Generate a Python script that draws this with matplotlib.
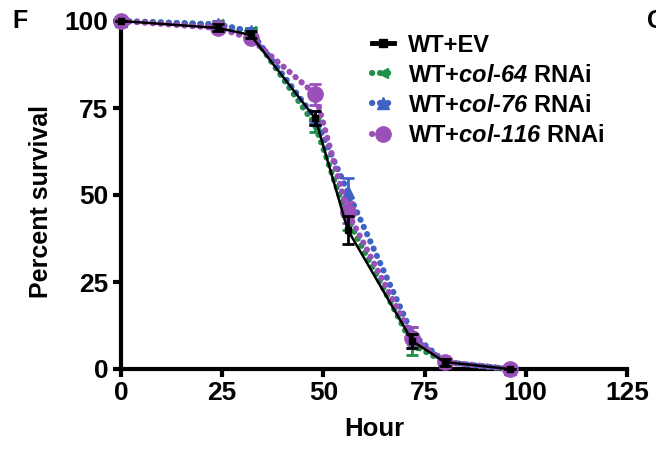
import matplotlib
matplotlib.use("Agg")
import matplotlib.pyplot as plt
from matplotlib.lines import Line2D

plt.rcParams['font.family'] = ['Liberation Sans', 'DejaVu Sans']
plt.rcParams['font.weight'] = 'bold'
plt.rcParams['mathtext.fontset'] = 'custom'
plt.rcParams['mathtext.sf'] = 'Liberation Sans:italic:bold'
plt.rcParams['mathtext.it'] = 'Liberation Sans:italic:bold'
plt.rcParams['mathtext.rm'] = 'Liberation Sans:bold'
plt.rcParams['mathtext.bf'] = 'Liberation Sans:bold'

hours = [0, 24, 32, 48, 56, 72, 80, 96]
ev = [100, 98, 96, 72, 40, 8, 2, 0]
ev_err = [0, 1, 1, 2, 4, 2, 1, 0]
col64 = [100, 99, 97, 70, 43, 7, 2, 0]
col64_err = [0, 1, 1, 2, 3, 3, 1, 0]
col76 = [100, 99, 97, 72, 51, 10, 2, 0]
col76_err = [0, 1, 1, 2, 4, 2, 1, 0]
col116 = [100, 98, 95, 79, 45, 9, 2, 0]
col116_err = [0, 1, 1, 3, 3, 3, 1, 0]

labels = ["WT+EV", "WT+$\\mathsf{col}$-$\\mathsf{64}$ RNAi",
          "WT+$\\mathsf{col}$-$\\mathsf{76}$ RNAi",
          "WT+$\\mathsf{col}$-$\\mathsf{116}$ RNAi"]

green = '#1e9148'
blue = '#3f63c4'
purple = '#9a50b8'

fig = plt.figure(figsize=(6.56, 4.49), dpi=100)
ax = fig.add_axes([121/656, 1-369/449, (627-121)/656, (369-21)/449])

dot = dict(linestyle=(0, (0.05, 1.25)), dash_capstyle='round', linewidth=4.4)
eb = dict(capsize=4, elinewidth=2, capthick=2, clip_on=False)

ax.errorbar(hours, col64, yerr=col64_err, color=green, marker='<', markersize=7,
            zorder=3, **eb, **dot)
ax.errorbar(hours, col76, yerr=col76_err, color=blue, marker='^', markersize=9,
            zorder=3, **eb, **dot)
ax.errorbar(hours, col116, yerr=col116_err, color=purple, marker='o', markersize=11,
            zorder=4, **eb, **dot)
ax.errorbar(hours, ev, yerr=ev_err, color='black', marker='s', markersize=5,
            linewidth=1.8, zorder=5, **eb)

ax.set_xlim(0, 125)
ax.set_ylim(0, 100)
ax.set_xticks([0, 25, 50, 75, 100, 125])
ax.set_yticks([0, 25, 50, 75, 100])
for s in ['top', 'right']:
    ax.spines[s].set_visible(False)
for s in ['left', 'bottom']:
    ax.spines[s].set_linewidth(3)
ax.tick_params(width=3, length=6, labelsize=19, pad=3)
for t in ax.get_xticklabels() + ax.get_yticklabels():
    t.set_fontweight('bold')
ax.set_xlabel("Hour", fontsize=18.5, fontweight='bold', labelpad=8)
ax.set_ylabel("Percent survival", fontsize=18, fontweight='bold', labelpad=6)
ax.yaxis.set_label_coords(-0.135, 0.48)

handles = [
    Line2D([], [], color='black', marker='s', markersize=6, linewidth=3.5),
    Line2D([], [], color=green, marker='<', markersize=7, **dot),
    Line2D([], [], color=blue, marker='^', markersize=9, **dot),
    Line2D([], [], color=purple, marker='o', markersize=11, **dot),
]
leg = ax.legend(handles, labels, loc='upper left', bbox_to_anchor=(0.455, 1.025),
                frameon=False, handlelength=0.9, handletextpad=0.6,
                labelspacing=0.3, prop={'weight': 'bold', 'size': 17})

fig.text(12/656, 1-21/449, "F", fontsize=18, fontweight='bold', va='center', ha='left')
fig.text(647/656, 1-21/449, "G", fontsize=18, fontweight='bold', va='center', ha='left')

fig.savefig("out.png", dpi=100)
